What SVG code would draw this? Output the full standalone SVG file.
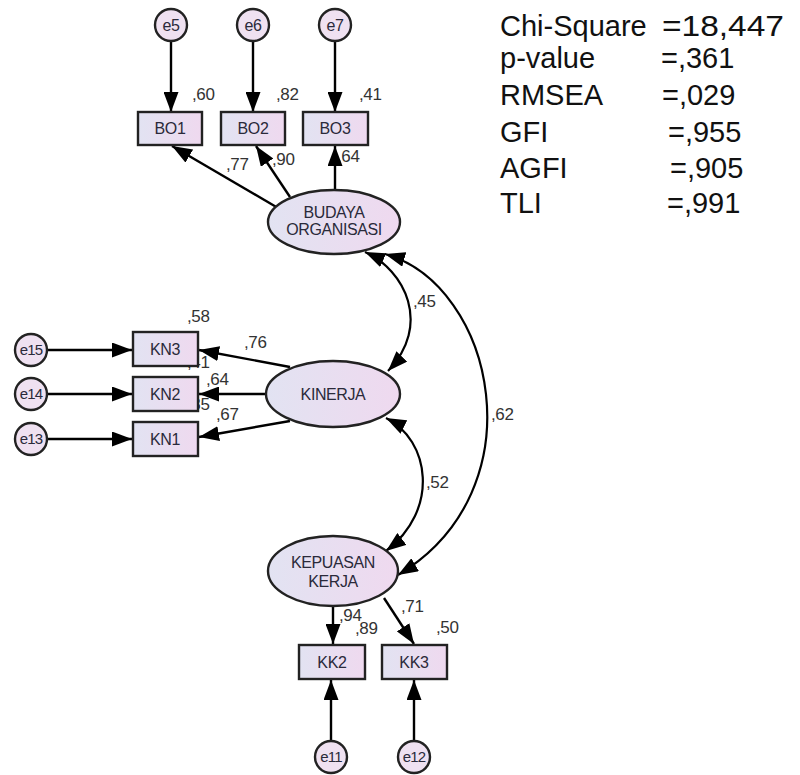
<svg xmlns="http://www.w3.org/2000/svg" width="800" height="775" viewBox="0 0 800 775">
<defs>
<linearGradient id="lg" x1="0" y1="0" x2="1" y2="0">
<stop offset="0" stop-color="#e2e3f2"/>
<stop offset="1" stop-color="#efd9ef"/>
</linearGradient>
<marker id="ah" markerUnits="userSpaceOnUse" markerWidth="20" markerHeight="15" refX="20" refY="7.5" orient="auto-start-reverse" viewBox="0 0 20 15">
<path d="M0,0 L20,7.5 L0,15 z" fill="#000"/>
</marker>
<style>
.ln{fill:none;stroke:#000;stroke-width:2.4;marker-end:url(#ah)}
.cv{fill:none;stroke:#000;stroke-width:2.2;marker-end:url(#ah);marker-start:url(#ah)}
.bx{fill:url(#lg);stroke:#222;stroke-width:2.4}
.el{fill:url(#lg);stroke:#222;stroke-width:2.4}
.ci{fill:#efe1f1;stroke:#222;stroke-width:2.4}
.t{font-family:"Liberation Sans",Arial,sans-serif;fill:#2a2a3a;text-anchor:middle}
.bt{font-size:16px;letter-spacing:-0.3px}
.et{font-size:16px;letter-spacing:-0.4px}
.ct{font-size:15px;letter-spacing:-0.8px}
.ct2{font-size:16px;letter-spacing:-0.5px}
.n{font-family:"Liberation Sans",Arial,sans-serif;font-size:17px;fill:#333;letter-spacing:-0.4px}
.s{font-family:"Liberation Sans",Arial,sans-serif;font-size:29px;fill:#111}
</style>
</defs>
<rect width="800" height="775" fill="#fff"/>

<g id="labels">
<text class="n" x="192" y="100">,60</text>
<text class="n" x="276" y="100">,82</text>
<text class="n" x="359" y="100">,41</text>
<text class="n" x="226" y="170">,77</text>
<text class="n" x="272" y="165">,90</text>
<text class="n" x="337" y="162">,64</text>
<text class="n" x="187" y="322">,58</text>
<text class="n" x="244" y="348">,76</text>
<text class="n" x="187" y="368">,41</text>
<text class="n" x="206" y="385">,64</text>
<text class="n" x="187" y="410">,35</text>
<text class="n" x="216" y="420">,67</text>
<text class="n" x="339" y="621">,94</text>
<text class="n" x="355" y="634">,89</text>
<text class="n" x="401" y="612">,71</text>
<text class="n" x="436" y="633">,50</text>
<text class="n" x="413" y="307">,45</text>
<text class="n" x="491" y="420">,62</text>
<text class="n" x="426" y="488">,52</text>
</g>

<g id="connectors">
<path class="ln" d="M171,41 L171,112"/>
<path class="ln" d="M253,41 L253,112"/>
<path class="ln" d="M335,41 L335,112"/>
<path class="ln" d="M278,208 L172,146"/>
<path class="ln" d="M290,197 L256,146"/>
<path class="ln" d="M335,190 L335,146"/>
<path class="ln" d="M290,367 L199,350"/>
<path class="ln" d="M266,394 L199,394"/>
<path class="ln" d="M290,421 L199,437"/>
<path class="ln" d="M47,350 L132,350"/>
<path class="ln" d="M47,394 L132,394"/>
<path class="ln" d="M47,439 L132,439"/>
<path class="ln" d="M333,606 L333,644"/>
<path class="ln" d="M384,598 L414,644"/>
<path class="ln" d="M331,741 L331,680"/>
<path class="ln" d="M414,741 L414,680"/>
<path class="cv" d="M365,252 C405,270 432,325 388,371"/>
<path class="cv" d="M386,418 C430,440 440,510 386,551"/>
<path class="cv" d="M385,254 C495,285 540,490 398,575"/>
</g>

<g id="e5"><circle class="ci" cx="171" cy="25" r="16"/><text class="t ct2" x="171" y="31">e5</text></g>
<g id="e6"><circle class="ci" cx="253" cy="25" r="16"/><text class="t ct2" x="253" y="31">e6</text></g>
<g id="e7"><circle class="ci" cx="335" cy="25" r="16"/><text class="t ct2" x="335" y="31">e7</text></g>
<g id="BO1"><rect class="bx" x="138" y="112" width="64" height="33"/><text class="t bt" x="170" y="134">BO1</text></g>
<g id="BO2"><rect class="bx" x="221" y="112" width="64" height="33"/><text class="t bt" x="253" y="134">BO2</text></g>
<g id="BO3"><rect class="bx" x="303" y="112" width="65" height="33"/><text class="t bt" x="335" y="134">BO3</text></g>
<g id="BUDAYA"><ellipse class="el" cx="334" cy="222" rx="66" ry="32"/><text class="t et" x="334" y="218">BUDAYA</text><text class="t et" x="334" y="235">ORGANISASI</text></g>

<g id="e15"><circle class="ci" cx="31" cy="350" r="16"/><text class="t ct" x="31" y="355">e15</text></g>
<g id="e14"><circle class="ci" cx="31" cy="394" r="16"/><text class="t ct" x="31" y="399">e14</text></g>
<g id="e13"><circle class="ci" cx="31" cy="439" r="16"/><text class="t ct" x="31" y="444">e13</text></g>
<g id="KN3"><rect class="bx" x="133" y="332" width="65" height="34"/><text class="t bt" x="165" y="355">KN3</text></g>
<g id="KN2"><rect class="bx" x="133" y="377" width="65" height="34"/><text class="t bt" x="165" y="400">KN2</text></g>
<g id="KN1"><rect class="bx" x="133" y="422" width="65" height="34"/><text class="t bt" x="165" y="445">KN1</text></g>
<g id="KINERJA"><ellipse class="el" cx="333" cy="394" rx="67" ry="33"/><text class="t et" x="333" y="400">KINERJA</text></g>

<g id="KEPUASAN"><ellipse class="el" cx="333" cy="571" rx="65" ry="35"/><text class="t et" x="333" y="568">KEPUASAN</text><text class="t et" x="333" y="587">KERJA</text></g>
<g id="KK2"><rect class="bx" x="299" y="645" width="66" height="34"/><text class="t bt" x="332" y="668">KK2</text></g>
<g id="KK3"><rect class="bx" x="382" y="645" width="65" height="34"/><text class="t bt" x="414" y="668">KK3</text></g>
<g id="e11"><circle class="ci" cx="331" cy="757" r="16"/><text class="t ct" x="331" y="762">e11</text></g>
<g id="e12"><circle class="ci" cx="414" cy="757" r="16"/><text class="t ct" x="414" y="762">e12</text></g>

<g id="fit">
<text class="s" x="500" y="36">Chi-Square</text><text class="s" x="662" y="36" textLength="122" lengthAdjust="spacingAndGlyphs">=18,447</text>
<text class="s" x="500" y="68">p-value</text><text class="s" x="661" y="68">=,361</text>
<text class="s" x="500" y="105">RMSEA</text><text class="s" x="662" y="105">=,029</text>
<text class="s" x="500" y="142">GFI</text><text class="s" x="668" y="142">=,955</text>
<text class="s" x="500" y="178">AGFI</text><text class="s" x="670" y="178">=,905</text>
<text class="s" x="500" y="213">TLI</text><text class="s" x="667" y="213">=,991</text>
</g>
</svg>
